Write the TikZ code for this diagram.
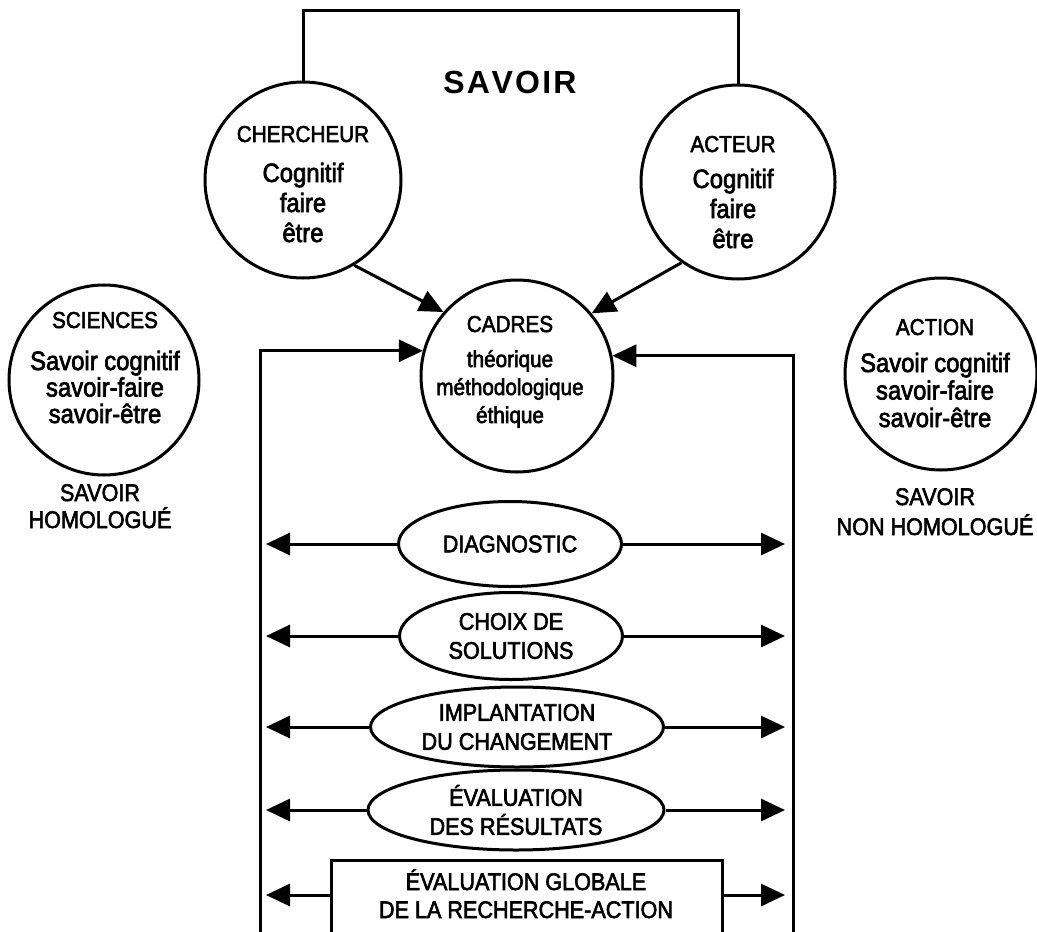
\documentclass[tikz,border=0pt]{standalone}
\usepackage{fontspec}
\setmainfont{Liberation Sans}[FakeStretch=0.9,FakeBold=2.5]
\newfontfamily\savfont{Liberation Sans}
\usetikzlibrary{arrows.meta,shapes.geometric}
\begin{document}
\begin{tikzpicture}[x=1pt,y=-1pt,
  circ/.style={draw,circle,line width=3pt,inner sep=0pt,minimum size=#1},
  ell/.style={draw,ellipse,line width=3pt,inner sep=0pt,align=center,
              font=\fontsize{24}{29}\selectfont},
  ttl/.style={anchor=base,font=\fontsize{23}{25}\selectfont},
  body/.style={anchor=base,align=center,font=\fontsize{26.5}{#1}\selectfont},
  body/.default=30,
  lbl/.style={anchor=base,align=center,font=\fontsize{24}{#1}\selectfont},
  lbl/.default=27,
  ln/.style={line width=3pt},
  arr/.style={line width=3pt,-{Triangle[length=24pt,width=22pt]}}
]
\useasboundingbox (0,0) rectangle (1037,932);

% top: SAVOIR bracket
\node[circ=196pt] (cherch) at (303,180) {};
\node[circ=194pt] (acteur) at (738,182) {};
\coordinate (tl) at (303,10);
\coordinate (tr) at (738,10);
\draw[ln] (cherch.north) -- (tl) -- (tr) -- (acteur.north);
\node[anchor=base,font=\savfont\fontsize{32}{32}\selectfont\bfseries] (savoir) at (510,93)
  {S\kern2.2pt A\kern1.6pt V\kern2.2pt O\kern2.2pt I\kern2.2pt R};

\node[ttl] (cherch-t) at (303,142) {CHERCHEUR};
\node[body] (cherch-b) at (303,242) {Cognitif\\faire\\être};
\node[ttl] (acteur-t) at (733,152) {ACTEUR};
\node[body] (acteur-b) at (733,248) {Cognitif\\faire\\être};

% CADRES
\node[circ=192pt] (cadres) at (517,376) {};
\node[ttl] (cadres-t) at (510,332) {CADRES};
\node[anchor=base,align=center,font=\fontsize{23}{28}\selectfont] (cadres-b) at (510,423)
  {théorique\\méthodologique\\éthique};
\draw[arr] (cherch.-59.5) -- (cadres.139);
\draw[arr] (acteur.235) -- (cadres.40);

% SCIENCES
\node[circ=190pt] (sciences) at (104,380) {};
\node[ttl] (sciences-t) at (105,328) {SCIENCES};
\node[body=26.5] (sciences-b) at (105,423) {Savoir cognitif\\savoir-faire\\savoir-être};
\node[lbl=27] (homol) at (100,528) {SAVOIR\\HOMOLOGUÉ};

% ACTION
\node[circ=192pt] (action) at (941,374) {};
\node[ttl] (action-t) at (935,335) {ACTION};
\node[body=27.5] (action-b) at (935,427) {Savoir cognitif\\savoir-faire\\savoir-être};
\node[lbl=30] (nonhomol) at (935,535) {SAVOIR\\NON HOMOLOGUÉ};

% frame
\coordinate (fl) at (260,960);
\coordinate (fr) at (793,960);
\draw[arr] (fl) |- (cadres.165.5);
\draw[arr] (fr) |- (cadres.12.6);

% steps
\node[ell,minimum width=223pt,minimum height=85pt] (diag) at (510,544) {DIAGNOSTIC};
\node[ell,minimum width=223pt,minimum height=87pt] (choix) at (511,636) {CHOIX DE\\SOLUTIONS};
\node[ell,minimum width=293pt,minimum height=80pt] (impl) at (517,727) {IMPLANTATION\\DU CHANGEMENT};
\node[ell,minimum width=296pt,minimum height=80pt] (eval) at (516,810) {ÉVALUATION\\DES RÉSULTATS};
\node[draw,line width=3pt,inner sep=0pt,anchor=north,minimum width=391pt,minimum height=110pt]
  (glob) at (526.5,859) {};
\node[lbl=28] (glob-t) at (526,918) {ÉVALUATION GLOBALE\\DE LA RECHERCHE-ACTION};

\coordinate (l1) at (266,544); \coordinate (r1) at (785,544);
\coordinate (l2) at (266,636); \coordinate (r2) at (785,636);
\coordinate (l3) at (266,727); \coordinate (r3) at (785,727);
\coordinate (l4) at (266,810); \coordinate (r4) at (785,810);
\coordinate (l5) at (266,895); \coordinate (r5) at (785,895);
\draw[arr] (diag) -- (l1); \draw[arr] (diag) -- (r1);
\draw[arr] (choix) -- (l2); \draw[arr] (choix) -- (r2);
\draw[arr] (impl) -- (l3); \draw[arr] (impl) -- (r3);
\draw[arr] (eval) -- (l4); \draw[arr] (eval) -- (r4);
\draw[arr] (l5 -| glob.west) -- (l5); \draw[arr] (r5 -| glob.east) -- (r5);
\end{tikzpicture}
\end{document}
